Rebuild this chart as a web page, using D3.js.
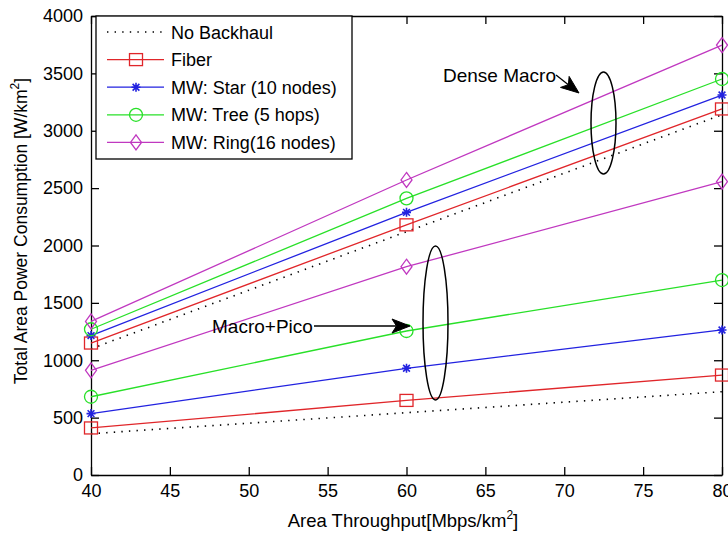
<!DOCTYPE html>
<html>
<head>
<meta charset="utf-8">
<script src="https://cdn.jsdelivr.net/npm/d3@7"></script>
<style>
  html, body { margin: 0; padding: 0; background: #fff; }
  svg { display: block; }
  text { font-family: "Liberation Sans", Arial, sans-serif; fill: #000; }
</style>
</head>
<body>
<svg id="chart" width="728" height="535"></svg>
<script>
// ---- data ----
const throughput = [40, 60, 80];
const xTicks = [40, 45, 50, 55, 60, 65, 70, 75, 80];
const yTicks = [0, 500, 1000, 1500, 2000, 2500, 3000, 3500, 4000];

// Dense Macro scenario
const noBackhaulDense = [1100, 2120, 3140];
const fiberDense      = [1150, 2180, 3190];
const starDense       = [1215, 2289, 3311];
const treeDense       = [1270, 2411, 3451];
const ringDense       = [1338, 2571, 3747];
// Macro+Pico scenario
const noBackhaulMP = [360, 543, 726];
const fiberMP      = [410, 650, 871];
const starMP       = [535, 930, 1264];
const treeMP       = [682, 1255, 1699];
const ringMP       = [912, 1815, 2556];

const seriesNames = ["No Backhaul", "Fiber", "MW: Star (10 nodes)", "MW: Tree (5 hops)", "MW: Ring(16 nodes)"];
const seriesColors = ["#000000", "#e0262a", "#2222e0", "#28e028", "#c038c0"];
const seriesMarkers = ["none", "square", "star", "circle", "diamond"];
const seriesDense = [noBackhaulDense, fiberDense, starDense, treeDense, ringDense];
const seriesMP = [noBackhaulMP, fiberMP, starMP, treeMP, ringMP];

// ---- layout ----
const svg = d3.select("#chart");
const L = 91, R = 722, T = 16, B = 475;
const x = d3.scaleLinear().domain([40, 80]).range([L, R]);
const y = d3.scaleLinear().domain([0, 4000]).range([B, T]);

const FS = 18;

// axes
function styleAxis(g) {
  g.selectAll("path.domain").attr("stroke", "#000").attr("stroke-width", 1.3);
  g.selectAll(".tick line").attr("stroke", "#000").attr("stroke-width", 1.3);
  g.selectAll("text").attr("font-size", FS).attr("font-family", "'Liberation Sans', Arial, sans-serif").attr("fill", "#000");
}
const gx = svg.append("g").attr("transform", `translate(0,${B})`)
  .call(d3.axisBottom(x).tickValues(xTicks).tickSize(-8).tickSizeOuter(0).tickPadding(9).tickFormat(d3.format("d")));
styleAxis(gx);
const gy = svg.append("g").attr("transform", `translate(${L},0)`)
  .call(d3.axisLeft(y).tickValues(yTicks).tickSize(-8).tickSizeOuter(0).tickPadding(8).tickFormat(d3.format("d")));
styleAxis(gy);
const gxt = svg.append("g").attr("transform", `translate(0,${T})`)
  .call(d3.axisTop(x).tickValues(xTicks).tickSize(-8).tickSizeOuter(0).tickFormat(""));
styleAxis(gxt);
const gyr = svg.append("g").attr("transform", `translate(${R},0)`)
  .call(d3.axisRight(y).tickValues(yTicks).tickSize(-8).tickSizeOuter(0).tickFormat(""));
styleAxis(gyr);

// markers
function drawMarker(g, type, cx, cy, color) {
  if (type === "square") {
    g.append("rect").attr("x", cx - 6.5).attr("y", cy - 6).attr("width", 13).attr("height", 12)
      .attr("fill", "none").attr("stroke", color).attr("stroke-width", 1.3);
  } else if (type === "circle") {
    g.append("circle").attr("cx", cx).attr("cy", cy).attr("r", 6.5)
      .attr("fill", "none").attr("stroke", color).attr("stroke-width", 1.3);
  } else if (type === "diamond") {
    g.append("path").attr("d", `M${cx},${cy - 7.5}L${cx + 5.5},${cy}L${cx},${cy + 7.5}L${cx - 5.5},${cy}Z`)
      .attr("fill", "none").attr("stroke", color).attr("stroke-width", 1.3);
  } else if (type === "star") {
    const s = 4.5;
    g.append("path").attr("d",
      `M${cx - s},${cy}L${cx + s},${cy}M${cx},${cy - s}L${cx},${cy + s}` +
      `M${cx - s * 0.75},${cy - s * 0.75}L${cx + s * 0.75},${cy + s * 0.75}` +
      `M${cx - s * 0.75},${cy + s * 0.75}L${cx + s * 0.75},${cy - s * 0.75}`)
      .attr("stroke", color).attr("stroke-width", 1.6).attr("fill", "none");
  }
}

const line = d3.line().x((d, i) => x(throughput[i])).y(d => y(d));
const plot = svg.append("g");
[seriesMP, seriesDense].forEach(group => {
  group.forEach((vals, k) => {
    const p = plot.append("path").datum(vals).attr("d", line)
      .attr("fill", "none").attr("stroke", seriesColors[k]).attr("stroke-width", 1.3);
    if (k === 0) p.attr("stroke-dasharray", "1.4,6.2").attr("stroke-width", 1.6);
    vals.forEach((v, i) => drawMarker(plot, seriesMarkers[k], x(throughput[i]), y(v), seriesColors[k]));
  });
});

// annotations
function arrowHead(g, x1, y1, x2, y2, len, wid) {
  const a = Math.atan2(y2 - y1, x2 - x1);
  const ca = Math.cos(a), sa = Math.sin(a);
  const bx = x2 - len * ca, by = y2 - len * sa;
  const nx = x2 - len * 0.75 * ca, ny = y2 - len * 0.75 * sa;
  const px = -sa * wid / 2, py = ca * wid / 2;
  g.append("line").attr("x1", x1).attr("y1", y1).attr("x2", nx).attr("y2", ny)
    .attr("stroke", "#000").attr("stroke-width", 1.3);
  g.append("path").attr("d", `M${x2},${y2}L${bx + px},${by + py}L${nx},${ny}L${bx - px},${by - py}Z`)
    .attr("fill", "#000").attr("stroke", "#000").attr("stroke-width", 1);
}
const ann = svg.append("g");
// Macro+Pico
ann.append("text").attr("x", 212).attr("y", 333).attr("font-size", 19).text("Macro+Pico");
arrowHead(ann, 314, 326, 410, 326, 18, 14);
ann.append("ellipse").attr("cx", 435.5).attr("cy", 323).attr("rx", 12.5).attr("ry", 77)
  .attr("fill", "none").attr("stroke", "#000").attr("stroke-width", 1.5);
// Dense Macro
ann.append("text").attr("x", 443).attr("y", 82).attr("font-size", 19).text("Dense Macro");
arrowHead(ann, 556, 75, 579, 93, 18, 14);
ann.append("ellipse").attr("cx", 603.5).attr("cy", 123).attr("rx", 12.5).attr("ry", 51)
  .attr("fill", "none").attr("stroke", "#000").attr("stroke-width", 1.5);

// legend
const leg = svg.append("g");
leg.append("rect").attr("x", 96).attr("y", 16).attr("width", 256).attr("height", 143)
  .attr("fill", "#fff").attr("stroke", "#000").attr("stroke-width", 1.3);
seriesNames.forEach((name, k) => {
  const ly = 32 + k * 27.6;
  const l = leg.append("line").attr("x1", 107).attr("x2", 164).attr("y1", ly).attr("y2", ly)
    .attr("stroke", seriesColors[k]).attr("stroke-width", 1.3);
  if (k === 0) l.attr("stroke-dasharray", "1.4,6.2").attr("stroke-width", 1.6);
  drawMarker(leg, seriesMarkers[k], 136, ly, seriesColors[k]);
  leg.append("text").attr("x", 171).attr("y", ly + 6.5).attr("font-size", FS).text(name);
});

// axis labels
const xl = svg.append("text").attr("x", 403).attr("y", 527).attr("text-anchor", "middle").attr("font-size", 18.5);
xl.append("tspan").text("Area Throughput[Mbps/km");
xl.append("tspan").attr("font-size", 12).attr("dy", -8).text("2");
xl.append("tspan").attr("dy", 8).text("]");

const yl = svg.append("text").attr("transform", "translate(27,231) rotate(-90)").attr("text-anchor", "middle").attr("font-size", 17.5);
yl.append("tspan").text("Total Area Power Consumption [W/km");
yl.append("tspan").attr("font-size", 12).attr("dy", -8).text("2");
yl.append("tspan").attr("dy", 8).text("]");
</script>
</body>
</html>
